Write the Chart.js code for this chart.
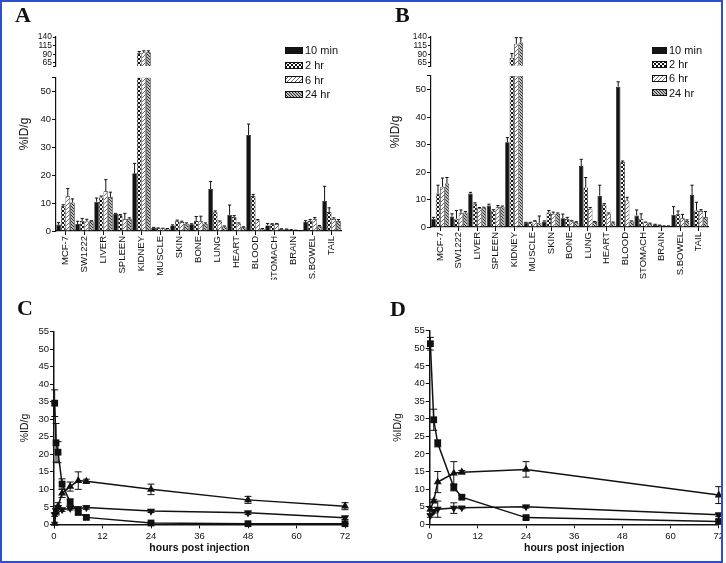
<!DOCTYPE html>
<html><head><meta charset="utf-8">
<script src="https://cdn.jsdelivr.net/npm/chart.js@4"></script>
<style>
html,body{margin:0;padding:0;background:#fff;}
#wrap{position:relative;width:726px;height:563px;overflow:hidden;background:#fff;}
canvas.chart{position:absolute;}
.lbl{position:absolute;font-family:'Liberation Serif','Times New Roman',serif;font-weight:bold;font-size:22px;line-height:22px;color:#111;}
.legend{position:absolute;font-family:'Liberation Sans',Arial,sans-serif;font-size:11px;color:#111;}
.legend .row{display:flex;align-items:center;white-space:nowrap;}
.legend canvas{margin-right:2px;display:block;}
#frame{position:absolute;left:0;top:0;width:723px;height:563px;box-sizing:border-box;border:2px solid #2f4fd2;pointer-events:none;}
#rmask{position:absolute;left:723px;top:0;width:3px;height:563px;background:#fff;}
</style></head><body>
<div id="wrap">
  <canvas id="cA" class="chart" width="363" height="280" style="left:0;top:0"></canvas>
  <canvas id="cB" class="chart" width="360" height="280" style="left:363px;top:0"></canvas>
  <canvas id="cC" class="chart" width="363" height="282" style="left:0;top:280px"></canvas>
  <canvas id="cD" class="chart" width="363" height="282" style="left:363px;top:280px"></canvas>
  <div class="lbl" style="left:15px;top:4px">A</div>
  <div class="lbl" style="left:395px;top:4px">B</div>
  <div class="lbl" style="left:17px;top:297px">C</div>
  <div class="lbl" style="left:390px;top:298px">D</div>
  <div id="legA" class="legend" style="left:285px;top:43px"></div>
  <div id="legB" class="legend" style="left:652px;top:43px"></div>
  <div id="rmask"></div>
  <div id="frame"></div>
</div>
<script>
// ---------- data ----------
const categories = ['MCF-7','SW1222','LIVER','SPLEEN','KIDNEY','MUSCLE','SKIN','BONE','LUNG','HEART','BLOOD','STOMACH','BRAIN','S.BOWEL','TAIL'];
const timeLabels = ['10 min','2 hr','6 hr','24 hr'];
const lowerTicks = [0,10,20,30,40,50];
const upperTicks = [65,90,115,140];
const lowerMax = 55, upperMin = 55, upperMax = 140;

// Panel A
const a10   = [2.3, 2.5, 10.5, 6.1, 20.7, 1.2, 2.0, 2.4, 15.0, 5.8, 34.4, 2.0, 0.6, 3.2, 10.7];
const a10e  = [0.7, 1.0, 1.3, 0.2, 3.5, 0.1, 0.2, 0.2, 2.7, 3.5, 3.9, 0.7, 0.1, 0.5, 5.3];
const a2    = [9.0, 3.6, 12.0, 5.6, 93, 1.0, 3.5, 3.6, 6.7, 5.0, 12.5, 2.4, 0.4, 3.6, 6.8];
const a2e   = [0.4, 0.9, 0.5, 0.3, 5, 0.1, 0.4, 1.6, 0.5, 0.5, 0.6, 0.2, 0.1, 0.5, 1.5];
const a6    = [12.4, 3.4, 14.2, 4.2, 95, 0.9, 3.2, 3.5, 3.3, 2.6, 3.8, 2.5, 0.2, 4.2, 4.3];
const a6e   = [2.8, 0.8, 4.2, 2.1, 5, 0.1, 0.3, 1.8, 0.3, 0.3, 0.3, 0.2, 0.1, 0.6, 0.4];
const a24   = [10.2, 3.5, 12.2, 4.4, 96, 0.8, 2.6, 2.6, 1.6, 1.3, 0.8, 0.7, 0.1, 1.7, 3.6];
const a24e  = [1.3, 0.2, 1.7, 0.3, 4, 0.1, 0.3, 0.3, 0.2, 0.2, 0.1, 0.1, 0.05, 0.3, 0.5];

// Panel B
const b10   = [3.0, 3.8, 12.2, 7.8, 30.8, 1.6, 2.0, 3.2, 22.2, 11.4, 51.0, 4.2, 0.9, 4.5, 11.6];
const b10e  = [0.5, 1.0, 0.4, 0.5, 1.7, 0.1, 0.2, 1.5, 2.4, 3.8, 1.8, 2.0, 0.1, 2.9, 3.6];
const b2    = [12.2, 3.0, 8.4, 5.9, 80, 1.6, 5.3, 2.9, 14.4, 8.2, 23.6, 3.0, 0.6, 4.8, 6.0];
const b2e   = [3.0, 3.0, 0.4, 0.4, 12, 0.1, 0.7, 0.6, 3.6, 0.3, 0.4, 1.8, 0.1, 1.0, 3.0];
const b6    = [14.6, 5.0, 6.8, 7.2, 120, 2.1, 4.8, 2.0, 6.6, 4.8, 9.6, 1.6, 0.3, 3.2, 5.8];
const b6e   = [3.2, 1.2, 0.3, 0.6, 18, 0.2, 0.6, 0.3, 0.5, 0.3, 1.2, 0.2, 0.1, 1.4, 0.5];
const b24   = [15.8, 5.3, 7.0, 7.4, 124, 1.5, 4.8, 1.7, 1.8, 1.6, 2.0, 1.2, 0.3, 2.2, 3.6];
const b24e  = [2.2, 0.3, 0.2, 0.2, 14, 2.5, 0.3, 0.2, 0.2, 0.2, 0.2, 0.2, 0.1, 0.4, 2.0];

// Panels C and D (time courses)
const xTicks = [0,12,24,36,48,60,72];
const yTicks = [0,5,10,15,20,25,30,35,40,45,50,55];
const cTimes   = [0.17, 0.5, 1, 2, 4, 6, 8, 24, 48, 72];
const cSquare  = [34.6, 23.3, 20.6, 11.5, 6.3, 3.4, 2.0, 0.4, 0.2, 0.2];
const cSquareE = [3.8, 5.5, 3.0, 1.5, 1.0, 0.5, 0.4, 0.2, 0.1, 0.1];
const cUp      = [0.3, 3.5, 5.2, 8.9, 10.8, 12.5, 12.3, 10.0, 7.0, 5.2];
const cUpE     = [0.3, 0.8, 1.0, 1.2, 1.3, 2.5, 0.6, 1.5, 1.0, 1.0];
const cDown    = [2.8, 4.0, 4.8, 4.2, 4.6, 4.5, 4.8, 3.8, 3.3, 1.9];
const cDownE   = [0.5, 0.6, 0.6, 0.5, 0.5, 0.5, 0.5, 0.4, 0.5, 0.5];
const dTimes   = [0.17, 1, 2, 6, 8, 24, 72];
const dSquare  = [51.3, 29.7, 23.0, 10.5, 7.7, 1.9, 0.8];
const dSquareE = [1.8, 3.0, 1.0, 1.0, 0.5, 0.5, 0.5];
const dUp      = [4.3, 6.6, 12.0, 14.5, 14.8, 15.6, 8.3];
const dUpE     = [0.5, 0.5, 3.0, 3.3, 0.5, 2.2, 2.4];
const dDown    = [2.5, 3.7, 4.3, 4.6, 4.7, 5.0, 2.7];
const dDownE   = [0.5, 0.5, 2.3, 1.5, 0.3, 0.4, 0.5];

// ---------- styling helpers ----------
Chart.defaults.font.family = '"Liberation Sans", Arial, sans-serif';
Chart.defaults.color = '#111';
Chart.defaults.animation = false;
const INK = '#111';

function tile(size, draw) {
  const c = document.createElement('canvas'); c.width = c.height = size;
  const g = c.getContext('2d'); g.fillStyle = '#fff'; g.fillRect(0,0,size,size);
  draw(g, size); return g.createPattern(c, 'repeat');
}
const solid = '#141414';
const checker = tile(4, g => { g.fillStyle = '#111'; g.fillRect(0,0,2,2); g.fillRect(2,2,2,2); });
const slash = tile(4, (g,s) => { g.strokeStyle = '#6a6a6a'; g.lineWidth = 1;
  g.beginPath(); g.moveTo(-1,s+1); g.lineTo(s+1,-1); g.moveTo(-1,1); g.lineTo(1,-1); g.moveTo(s-1,s+1); g.lineTo(s+1,s-1); g.stroke(); });
const back = tile(3, (g,s) => { g.strokeStyle = '#222'; g.lineWidth = 1.1;
  g.beginPath(); g.moveTo(-1,-1); g.lineTo(s+1,s+1); g.moveTo(s-1,-1); g.lineTo(s+1,1); g.moveTo(-1,s-1); g.lineTo(1,s+1); g.stroke(); });
const fills = [solid, checker, slash, back];

const errorBars = {
  id: 'errorBars',
  afterDatasetsDraw(chart) {
    const ctx = chart.ctx;
    ctx.save(); ctx.strokeStyle = INK; ctx.lineWidth = 1;
    chart.data.datasets.forEach((ds, i) => {
      if (!ds.errors) return;
      const meta = chart.getDatasetMeta(i);
      const sc = chart.scales[meta.yAxisID];
      meta.data.forEach((el, j) => {
        const v = ds.realValues ? ds.realValues[j] : ds.data[j].y;
        const e = ds.errors[j];
        if (v == null || e == null || v > sc.max || v < sc.min) return;
        const cap = ds.capHalf || 2;
        const hi = Math.min(v + e, sc.max);
        const yv = sc.getPixelForValue(v), yh = sc.getPixelForValue(hi);
        ctx.beginPath(); ctx.moveTo(el.x, yv); ctx.lineTo(el.x, yh);
        if (v + e <= sc.max) { ctx.moveTo(el.x - cap, yh); ctx.lineTo(el.x + cap, yh); }
        if (ds.errMode === 'both') {
          const lo = Math.max(v - e, sc.min);
          const yl = sc.getPixelForValue(lo);
          ctx.moveTo(el.x, yv); ctx.lineTo(el.x, yl);
          ctx.moveTo(el.x - cap, yl); ctx.lineTo(el.x + cap, yl);
        }
        ctx.stroke();
      });
    });
    ctx.restore();
  }
};

function barChart(id, series, errs, geo) {
  const datasets = [];
  series.forEach((vals, k) => {
    const common = { label: timeLabels[k], realValues: vals, errors: errs[k], stack: 's' + k,
      backgroundColor: fills[k], borderColor: INK, borderWidth: 0.7, capHalf: 1.6,
      categoryPercentage: 0.97, barPercentage: 1.0 };
    datasets.push(Object.assign({}, common, { data: vals.map(v => Math.min(v, lowerMax)), yAxisID: 'y' }));
    datasets.push(Object.assign({}, common, { data: vals.map(v => v > upperMin ? v : null), yAxisID: 'y2', base: upperMin }));
  });
  return new Chart(document.getElementById(id), {
    type: 'bar',
    data: { labels: categories, datasets },
    plugins: [errorBars],
    options: {
      responsive: false, events: [],
      layout: { padding: { left: 0, top: geo.top, right: geo.right, bottom: 0 } },
      plugins: { legend: { display: false }, tooltip: { enabled: false } },
      scales: {
        x: { type: 'category', offset: true,
          grid: { offset: false, drawOnChartArea: false, tickLength: 4, color: INK },
          border: { color: INK, width: 1.2 },
          ticks: { autoSkip: false, minRotation: 90, maxRotation: 90, padding: 1,
                   font: { size: 9.5 }, color: INK },
          afterFit: s => { s.height = geo.xH; } },
        y: { axis: 'y', position: 'left', stack: 'v', stackWeight: geo.wLow, weight: 1,
          min: 0, max: lowerMax, stacked: false,
          afterBuildTicks: s => { s.ticks = lowerTicks.concat([lowerMax]).map(v => ({ value: v })); },
          ticks: { autoSkip: false, callback: v => lowerTicks.includes(v) ? String(v) : '', font: { size: 9.5 }, color: INK, padding: 1 },
          grid: { drawOnChartArea: false, tickLength: 4, color: INK },
          border: { color: INK, width: 1.2 },
          afterFit: s => { s.width = geo.yW; } },
        yg: { axis: 'y', position: 'left', stack: 'v', stackWeight: geo.wGap, weight: 2, min: 0, max: 1,
          ticks: { display: false }, grid: { display: false }, border: { display: false },
          afterFit: s => { s.width = geo.yW; } },
        y2: { axis: 'y', position: 'left', stack: 'v', stackWeight: geo.wUp, weight: 3,
          min: upperMin, max: upperMax, stacked: false,
          afterBuildTicks: s => { s.ticks = [upperMin].concat(upperTicks).map(v => ({ value: v })); },
          ticks: { autoSkip: false, callback: v => upperTicks.includes(v) ? String(v) : '', font: { size: 8.5, lineHeight: 1 }, color: INK, padding: 1 },
          grid: { drawOnChartArea: false, tickLength: 3, color: INK },
          border: { color: INK, width: 1.2 },
          afterFit: s => { s.width = geo.yW; } },
        yt: { axis: 'y', position: 'left', weight: 10, min: 0, max: 1,
          ticks: { display: false }, grid: { display: false }, border: { display: false },
          title: { display: true, text: '%ID/g', font: { size: 12 }, color: INK, padding: { top: geo.tPad, bottom: 0 } },
          afterFit: s => { s.width = geo.tW; } }
      }
    }
  });
}

function lineChart(id, times, series, errs, geo) {
  const marks = [
    { pointStyle: 'rect', pointRadius: 4.8, pointRotation: 0 },
    { pointStyle: 'triangle', pointRadius: 4.6, pointRotation: 0 },
    { pointStyle: 'triangle', pointRadius: 4.6, pointRotation: 180 }
  ];
  const datasets = series.map((vals, k) => Object.assign({
    data: times.map((t, i) => ({ x: t, y: vals[i] })),
    errors: errs[k], errMode: 'both', capHalf: 3.5,
    borderColor: INK, backgroundColor: INK, borderWidth: 1.5,
    pointBorderWidth: 0, pointBackgroundColor: INK, tension: 0, clip: false
  }, marks[k]));
  return new Chart(document.getElementById(id), {
    type: 'line',
    data: { datasets },
    plugins: [errorBars],
    options: {
      responsive: false, events: [],
      layout: { padding: { left: 0, top: geo.top, right: geo.right, bottom: 0 } },
      plugins: { legend: { display: false }, tooltip: { enabled: false } },
      scales: {
        x: { type: 'linear', min: 0, max: 72,
          afterBuildTicks: s => { s.ticks = xTicks.map(v => ({ value: v })); },
          grid: { drawOnChartArea: false, tickLength: 4, color: INK },
          border: { color: INK, width: 1.5 },
          ticks: { autoSkip: false, font: { size: 9.5 }, color: INK, padding: 2, maxRotation: 0 },
          title: { display: true, text: 'hours post injection', font: { size: 10.5, weight: 'bold' }, color: INK, padding: { top: 0, bottom: 8 } },
          afterFit: s => { s.height = geo.xH; } },
        y: { type: 'linear', min: 0, max: 55,
          afterBuildTicks: s => { s.ticks = yTicks.map(v => ({ value: v })); },
          grid: { drawOnChartArea: false, tickLength: 4, color: INK },
          border: { color: INK, width: 1.5 },
          ticks: { autoSkip: false, font: { size: 9.5 }, color: INK, padding: 1 },
          title: { display: true, text: '%ID/g', font: { size: 10.5 }, color: INK, padding: { top: geo.tPad, bottom: 0 } },
          afterFit: s => { s.width = geo.yW; } }
      }
    }
  });
}

barChart('cA', [a10, a2, a6, a24], [a10e, a2e, a6e, a24e],
  { top: 37, right: 22, xH: 49, yW: 24, tW: 32, tPad: 17.8, wUp: 29.4, wGap: 11, wLow: 153.6 });
barChart('cB', [b10, b2, b6, b24], [b10e, b2e, b6e, b24e],
  { top: 37, right: 15, xH: 53, yW: 28, tW: 40, tPad: 25.8, wUp: 29.3, wGap: 9.4, wLow: 151 });
lineChart('cC', cTimes, [cSquare, cUp, cDown], [cSquareE, cUpE, cDownE],
  { top: 51.7, right: 18, xH: 37.6, yW: 54, tPad: 19 });
lineChart('cD', dTimes, [dSquare, dUp, dDown], [dSquareE, dUpE, dDownE],
  { top: 50.7, right: 7, xH: 37.7, yW: 66.7, tPad: 29 });

function buildLegend(elId, swW, swH, rowH) {
  const el = document.getElementById(elId);
  timeLabels.forEach((lab, k) => {
    const row = document.createElement('div'); row.className = 'row'; row.style.height = rowH + 'px';
    const c = document.createElement('canvas'); c.width = swW; c.height = swH;
    const g = c.getContext('2d'); g.fillStyle = fills[k]; g.fillRect(0, 0, swW, swH);
    g.strokeStyle = INK; g.lineWidth = 1; g.strokeRect(0.5, 0.5, swW - 1, swH - 1);
    const s = document.createElement('span'); s.textContent = lab;
    row.append(c, s); el.append(row);
  });
}
buildLegend('legA', 18, 7, 14.7);
buildLegend('legB', 15, 7, 14.2);
</script>
</body></html>
